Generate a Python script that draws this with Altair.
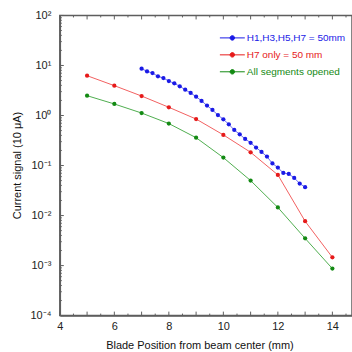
import altair as alt
import pandas as pd

series_names = ["H1,H3,H5,H7 = 50mm", "H7 only = 50 mm", "All segments opened"]
series_colors = ["#1a1ae6", "#e61a1a", "#138a13"]
line_colors = ["#6b6bf5", "#f26060", "#4fae4f"]

blue_x = [7.0, 7.2, 7.4, 7.6, 7.8, 8.0, 8.2, 8.4, 8.6, 8.8, 9.0, 9.2, 9.4, 9.6, 9.8,
          10.0, 10.2, 10.4, 10.6, 10.8, 11.0, 11.2, 11.4, 11.6, 11.8, 12.0, 12.2, 12.4,
          12.6, 12.8, 13.0]
blue_y = [8.63, 7.62, 7.06, 6.06, 5.6, 4.88, 4.39, 3.83, 3.28, 2.82, 2.38, 1.96, 1.58,
          1.29, 1.02, 0.84, 0.667, 0.514, 0.42, 0.34, 0.285, 0.229, 0.187, 0.151, 0.11,
          0.091, 0.071, 0.068, 0.0566, 0.0437, 0.0369]

red_x = [5, 6, 7, 8, 9, 10, 11, 12, 13, 14]
red_y = [6.25, 3.95, 2.45, 1.46, 0.85, 0.41, 0.184, 0.065, 0.0077, 0.00146]

green_x = [5, 6, 7, 8, 9, 10, 11, 12, 13, 14]
green_y = [2.49, 1.70, 1.12, 0.69, 0.36, 0.144, 0.050, 0.0145, 0.0035, 0.00087]

x_major_ticks = [4, 5, 6, 7, 8, 9, 10, 11, 12, 13, 14]
x_minor_ticks = [4.5, 5.5, 6.5, 7.5, 8.5, 9.5, 10.5, 11.5, 12.5, 13.5, 14.5]
x_label_values = [4, 6, 8, 10, 12, 14]
y_major_ticks = [1e-4, 1e-3, 1e-2, 1e-1, 1.0, 10.0, 100.0]
y_minor_ticks = [m * 10.0 ** e for e in range(-4, 2) for m in range(2, 10)]
y_tick_labels = ["10⁻⁴", "10⁻³", "10⁻²", "10⁻¹", "10⁰", "10¹", "10²"]

rows = []
for name, xs_, ys_ in zip(series_names, [blue_x, red_x, green_x], [blue_y, red_y, green_y]):
    for xv, yv in zip(xs_, ys_):
        rows.append({"series": name, "x": xv, "y": yv})
df = pd.DataFrame(rows)

FONT = "Liberation Sans"
AX = "#5e5e5e"
W, H = 293, 301

x_scale = alt.Scale(domain=[4, 14.72], nice=False, zero=False)
y_scale = alt.Scale(type="log", domain=[1e-4, 100], nice=False)
stroke_scale = alt.Scale(domain=series_names, range=line_colors)

y_axis = alt.Axis(
    orient="left", values=y_major_ticks,
    labelExpr="[" + ",".join(f"'{t}'" for t in y_tick_labels) + "][round(log(datum.value)/LN10)+4]",
    labelOverlap=False, labelFlush=False, labelPadding=9,
    labelFont=FONT, labelFontSize=11, labelColor="#222",
    ticks=False, domainColor=AX, domainWidth=1.5, grid=False,
    title="Current signal (10 μA)", titleFont=FONT, titleFontSize=11,
    titleFontWeight="normal", titleColor="#111",
    titleX=-42, titleY=150, titleAngle=270, titleAlign="center", titleBaseline="middle",
)
x_axis = alt.Axis(
    orient="bottom", values=x_label_values, format="d",
    labelOverlap=False, labelFlush=False, labelPadding=5,
    labelFont=FONT, labelFontSize=11, labelColor="#222",
    ticks=False, domainColor=AX, domainWidth=1.5, grid=False,
    title="Blade Position from beam center (mm)", titleFont=FONT, titleFontSize=11,
    titleFontWeight="normal", titleColor="#111",
    titleX=140, titleY=30, titleAlign="center", titleBaseline="middle",
)

X = alt.X("x:Q", scale=x_scale, axis=x_axis)
Y = alt.Y("y:Q", scale=y_scale, axis=y_axis)
XT = alt.X("v:Q", scale=x_scale, axis=x_axis)
YT = alt.Y("v:Q", scale=y_scale, axis=y_axis)

SYMBOL = "M-2.5,0L2.5,0M0.45,0A0.45,0.45,0,1,1,-0.45,0A0.45,0.45,0,1,1,0.45,0"

layers = []


# inward tick marks, positioned through the shared scales
def tick_rules(values, channel, length):
    d = alt.Chart(pd.DataFrame({"v": values})).mark_rule(color=AX, strokeWidth=1)
    if channel == "y":
        return [d.encode(y=YT, x=alt.value(0), x2=alt.value(length))]
    return [d.encode(x=XT, y=alt.value(H), y2=alt.value(H - length)),
            d.encode(x=XT, y=alt.value(0), y2=alt.value(length))]


layers += tick_rules(y_major_ticks, "y", 4)
layers += tick_rules(y_minor_ticks, "y", 2)
layers += tick_rules(x_major_ticks, "x", 4)
layers += tick_rules(x_minor_ticks, "x", 2)

base = alt.Chart(df)
layers.append(
    base.mark_line(strokeWidth=1).encode(
        x=X, y=Y, stroke=alt.Stroke("series:N", scale=stroke_scale, legend=None),
    )
)

for i, (name, col) in enumerate(zip(series_names, series_colors)):
    leg = alt.Legend(
        orient="none", legendX=167.5, legendY=17 + 17 * i, title=None, padding=0,
        labelFont=FONT, labelFontSize=10, labelOffset=9, labelColor=col,
        symbolType=SYMBOL, symbolSize=100, symbolStrokeWidth=1,
        symbolStrokeColor=col, symbolFillColor=col,
    )
    layers.append(
        base.transform_filter(alt.datum.series == name)
        .mark_point(filled=True, size=18, opacity=1, strokeWidth=0)
        .encode(
            x=X, y=Y,
            color=alt.Color("series:N", scale=alt.Scale(domain=[name], range=[col]), legend=leg),
        )
    )

# the view frame gives the top line; its right edge falls just outside the page
chart = alt.layer(*layers).resolve_scale(color="independent").properties(
    width=W, height=H,
    autosize=alt.AutoSizeParams(type="none"),
    padding={"left": 60, "top": 15, "right": 0, "bottom": 36},
    background="white",
).configure_view(stroke=AX, strokeWidth=1.5)

chart.save("out.html", embed_options={"renderer": "svg", "actions": False})
